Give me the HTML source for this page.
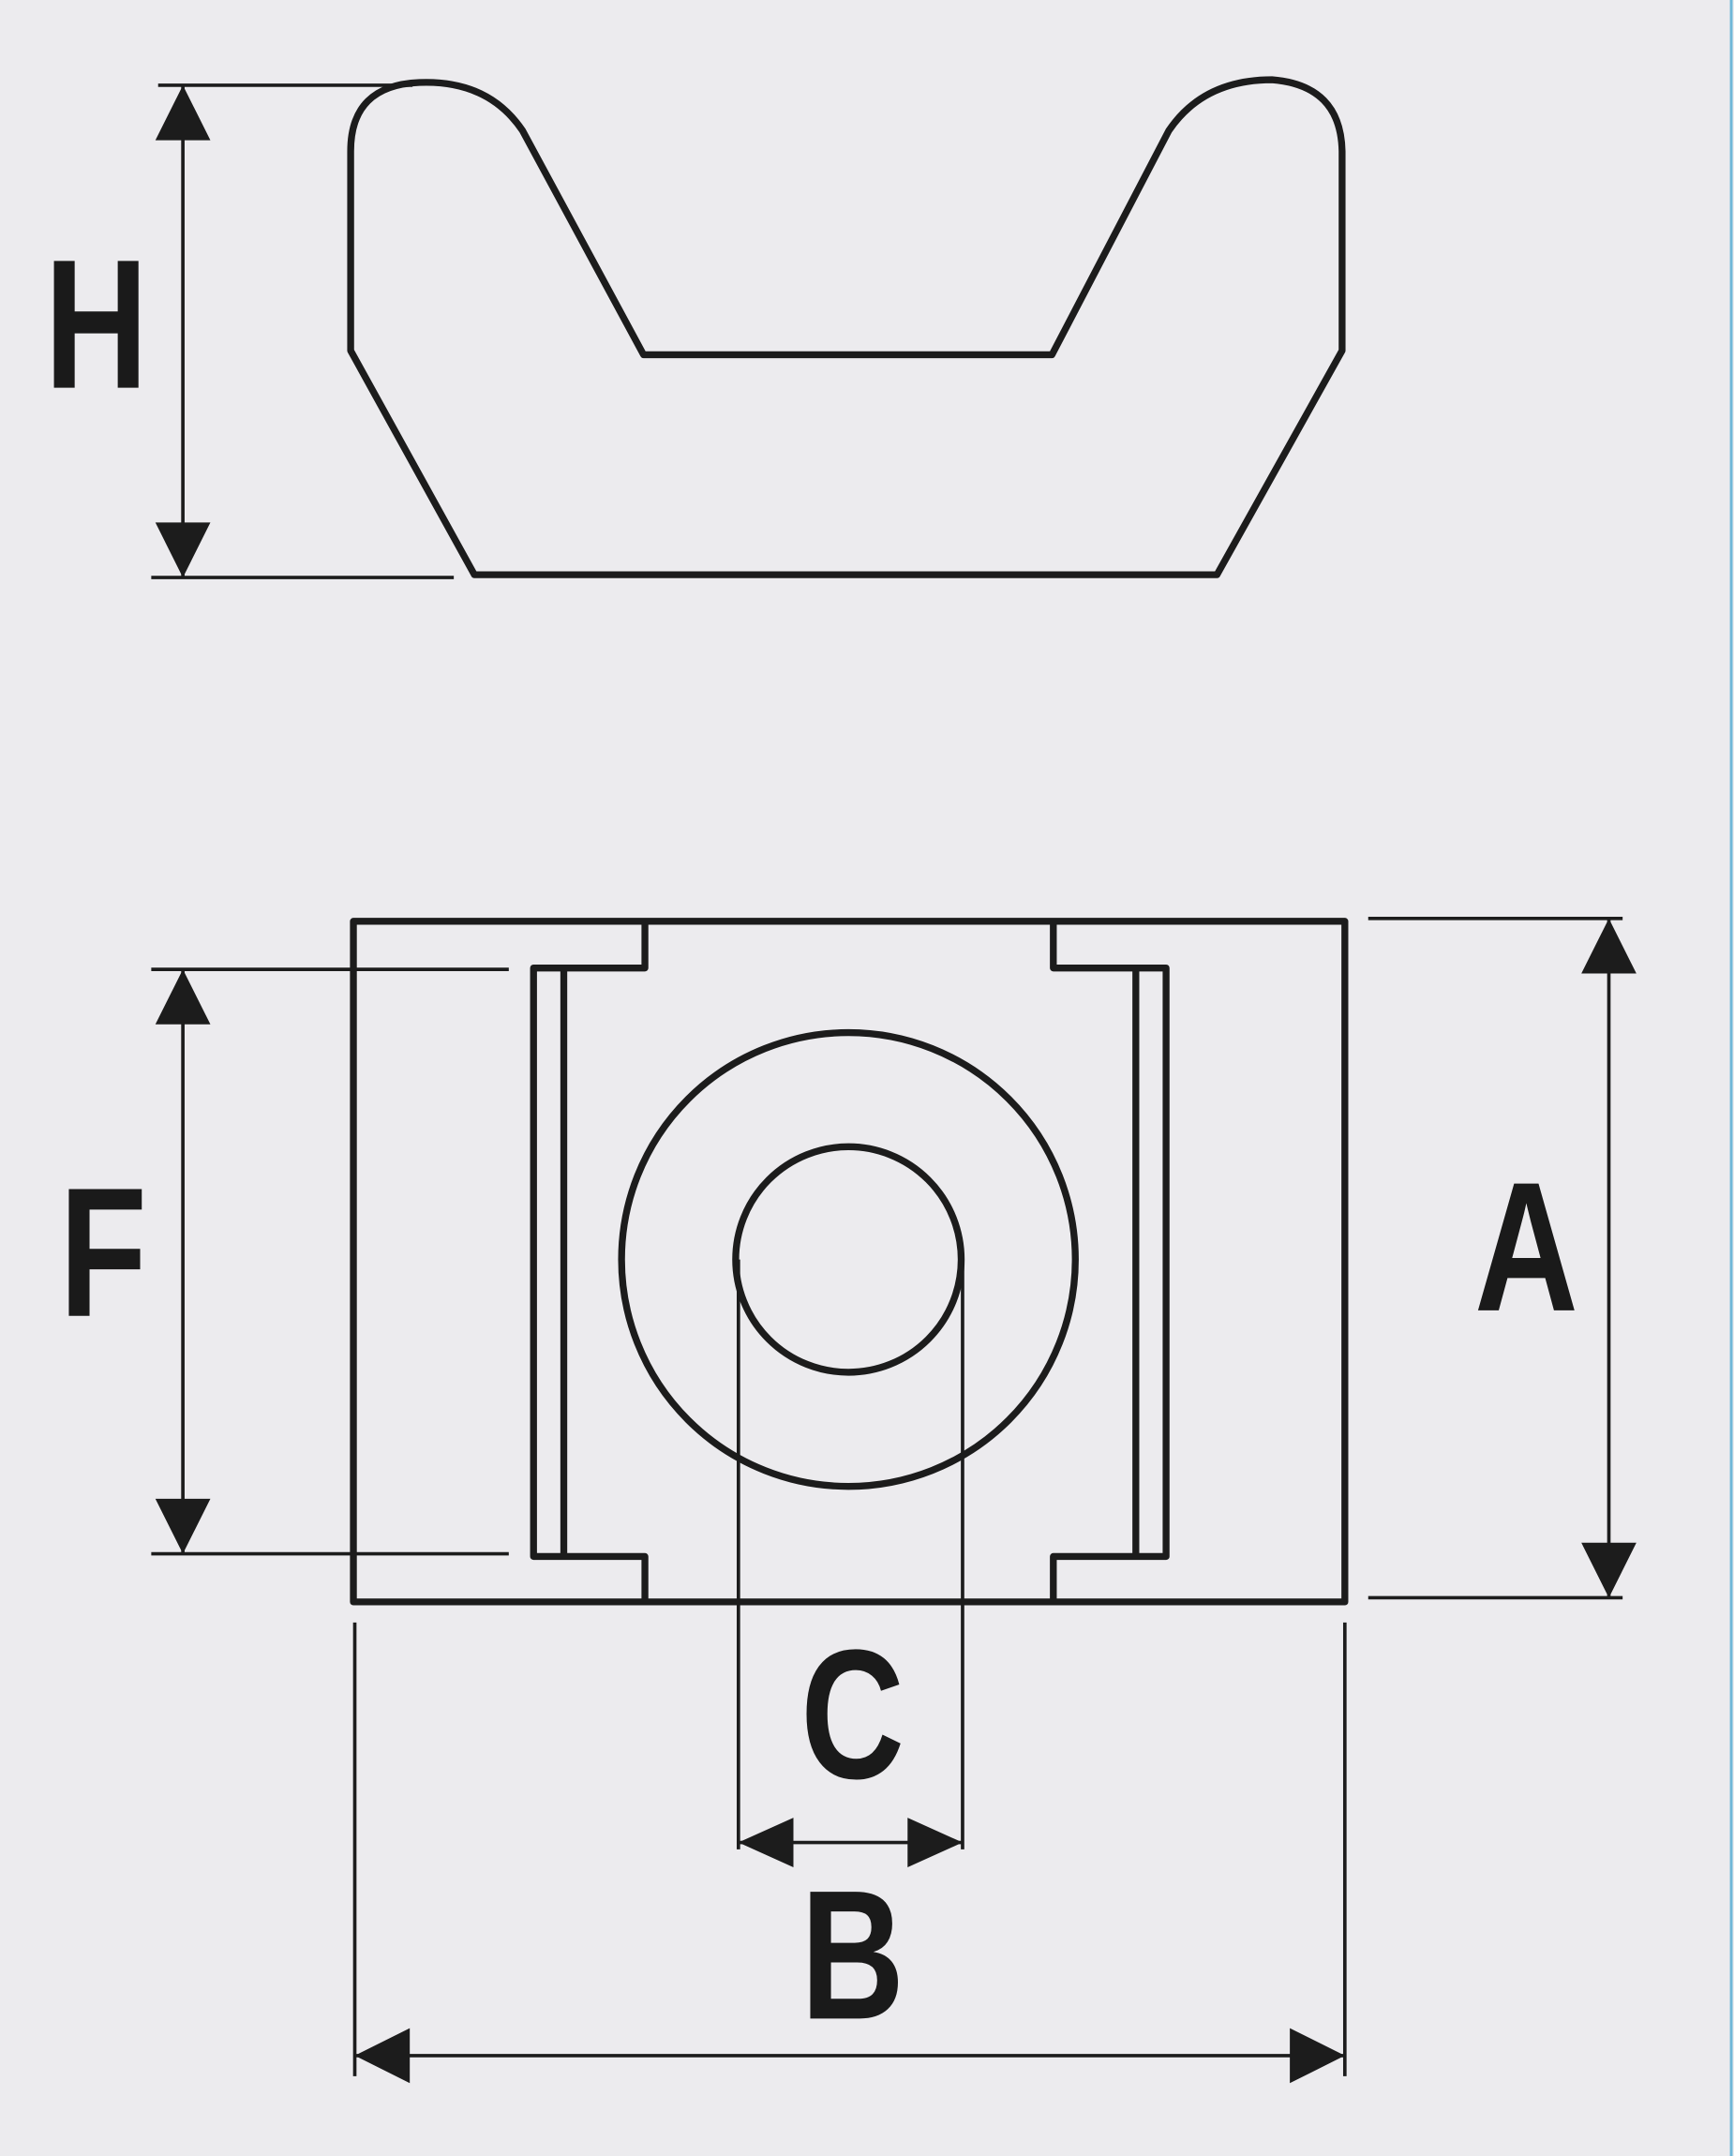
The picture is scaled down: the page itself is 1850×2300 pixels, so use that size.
<!DOCTYPE html>
<html><head><style>
html,body{margin:0;padding:0;background:#ecebee;}
svg{display:block}
text{font-family:"Liberation Sans",sans-serif;font-weight:bold;fill:#1a1a1a}
</style></head><body>
<svg width="1850" height="2300" viewBox="0 0 1261 1568" preserveAspectRatio="none">
<rect width="1261" height="1568" fill="#ecebee"/>
<line x1="1259" y1="0" x2="1259" y2="1568" stroke="#6fb7d8" stroke-width="2"/>
<g fill="none" stroke="#1c1c1c" stroke-width="5" stroke-linejoin="round">
<path d="M255,255 L255,110 Q255,62 305,60 Q355,58 380,95 L468,258 L765,258 L850,95 Q875,58 925,58 Q975,62 976,110 L976,255 L885,418 L345,418 Z"/>
<rect x="257" y="670" width="721" height="495"/>
<path d="M469,670 L469,704 L388,704 L388,1132 L469,1132 L469,1165"/>
<path d="M410,704 L410,1132"/>
<path d="M766,670 L766,704 L848,704 L848,1132 L766,1132 L766,1165"/>
<path d="M826,704 L826,1132"/>
<circle cx="617" cy="916" r="165"/>
<circle cx="617" cy="916" r="82"/>
</g>
<g stroke="#1c1c1c" stroke-width="2.5" fill="none">
<line x1="537" y1="916" x2="537" y2="1345"/>
<line x1="700" y1="916" x2="700" y2="1345"/>
<line x1="115" y1="62" x2="300" y2="62"/>
<line x1="110" y1="420" x2="330" y2="420"/>
<line x1="133" y1="62" x2="133" y2="420"/>
<line x1="110" y1="705" x2="370" y2="705"/>
<line x1="110" y1="1130" x2="370" y2="1130"/>
<line x1="133" y1="705" x2="133" y2="1130"/>
<line x1="995" y1="668" x2="1180" y2="668"/>
<line x1="995" y1="1162" x2="1180" y2="1162"/>
<line x1="1170" y1="668" x2="1170" y2="1162"/>
<line x1="258" y1="1180" x2="258" y2="1510"/>
<line x1="978" y1="1180" x2="978" y2="1510"/>
<line x1="258" y1="1495" x2="978" y2="1495"/>
<line x1="537" y1="1340" x2="700" y2="1340"/>
</g>
<g fill="#1c1c1c">
<polygon points="133,62 113,102 153,102"/>
<polygon points="133,420 113,380 153,380"/>
<polygon points="133,705 113,745 153,745"/>
<polygon points="133,1130 113,1090 153,1090"/>
<polygon points="1170,668 1150,708 1190,708"/>
<polygon points="1170,1162 1150,1122 1190,1122"/>
<polygon points="258,1495 298,1475 298,1515"/>
<polygon points="978,1495 938,1475 938,1515"/>
<polygon points="537,1340 577,1322 577,1358"/>
<polygon points="700,1340 660,1322 660,1358"/>
</g>
<text x="70" y="282" font-size="134" text-anchor="middle" transform="translate(70,0) scale(0.78,1) translate(-70,0)">H</text>
<text x="75" y="957" font-size="134" text-anchor="middle" transform="translate(75,0) scale(0.78,1) translate(-75,0)">F</text>
<text x="1110" y="953" font-size="134" text-anchor="middle" transform="translate(1110,0) scale(0.78,1) translate(-1110,0)">A</text>
<text x="620" y="1293" font-size="134" text-anchor="middle" transform="translate(620,0) scale(0.78,1) translate(-620,0)">C</text>
<text x="620" y="1468" font-size="134" text-anchor="middle" transform="translate(620,0) scale(0.78,1) translate(-620,0)">B</text>
</svg>
</body></html>
